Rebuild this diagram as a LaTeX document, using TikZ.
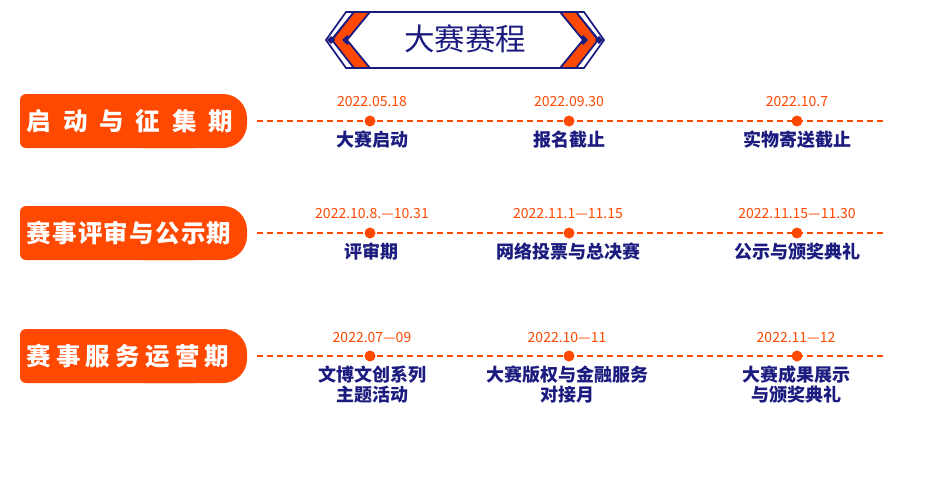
\documentclass[tikz,border=0pt]{standalone}
\usepackage{fontspec}
\setmainfont{Noto Sans CJK SC}
\definecolor{navy}{RGB}{28,28,128}
\definecolor{org}{RGB}{255,72,0}
\begin{document}
\begin{tikzpicture}[x=1pt,y=-1pt,
  datet/.style={text=org,font=\fontsize{14}{16}\selectfont,inner sep=0pt},
  labt/.style={text=navy,font=\bfseries\fontsize{18}{20.5}\selectfont,inner sep=0pt,align=center},
  boxt/.style={text=white,font=\bfseries\fontsize{24.5}{28}\selectfont,inner sep=0pt},
  tdot/.style={circle,fill=org,minimum size=11pt,inner sep=0pt},
  tline/.style={draw=org,dash pattern=on 6pt off 4pt,line width=1.4pt},
  bandline/.style={draw=navy,line width=1.7pt,line join=miter}]
\fill[white] (0,0) rectangle (931,498);
\useasboundingbox (0,0) rectangle (931,498);
% ---- title banner ----
\foreach \s in {1,-1}{
  \begin{scope}[xshift=465pt,xscale=\s]
    \filldraw[fill=white,bandline] (-119,12) -- (-111,12) -- (-133,39) -- (-111,68) -- (-119,68) -- (-139,40) -- cycle;
    \filldraw[fill=org,bandline] (-111,12) -- (-95,12) -- (-118,40) -- (-95,68) -- (-111,68) -- (-133,40) -- cycle;
    \fill[navy] (-118,35) -- (-113,40) -- (-118,45) -- (-123,40) -- cycle;
    \fill[navy] (-134,36) -- (-130,40) -- (-134,44) -- (-138,40) -- cycle;
  \end{scope}}
\filldraw[fill=white,bandline] (370,12) -- (560,12) -- (583,40) -- (560,68) -- (370,68) -- (347,40) -- cycle;
\node[text=navy,font=\fontsize{30.5}{34}\selectfont,inner sep=0pt] (title) at (465,39) {大赛赛程};
% ---- phase boxes ----
\foreach \y in {121,233,356}{
  \fill[org,rounded corners=6pt] (20,\y-27) rectangle (200,\y+27);
  \fill[org,rounded corners=24pt] (120,\y-27) rectangle (247,\y+27);
}
\node[boxt] (p1) at (130,121) {\makebox[206pt][s]{启\hfil 动\hfil 与\hfil 征\hfil 集\hfil 期}};
\node[boxt] (p2) at (129,233) {\makebox[205pt][s]{赛\hfil 事\hfil 评\hfil 审\hfil 与\hfil 公\hfil 示\hfil 期}};
\node[boxt] (p3) at (128,356) {\makebox[203pt][s]{赛\hfil 事\hfil 服\hfil 务\hfil 运\hfil 营\hfil 期}};
% ---- timelines ----
\foreach \r/\y in {1/121,2/233,3/356}{
  \coordinate (s\r) at (257,\y);
  \coordinate (e\r) at (887,\y);
  \draw[tline] (s\r) -- (e\r);
  \node[tdot] (d\r a) at (370,\y) {};
  \node[tdot] (d\r b) at (569,\y) {};
  \node[tdot] (d\r c) at (797,\y) {};
}
% row 1
\node[datet] (t1a) at (372,102) {2022.05.18};
\node[datet] (t1b) at (569,102) {2022.09.30};
\node[datet] (t1c) at (797,102) {2022.10.7};
\node[labt] (l1a) at (372,139.5) {大赛启动};
\node[labt] (l1b) at (569,139.5) {报名截止};
\node[labt] (l1c) at (797,139.5) {实物寄送截止};
% row 2
\node[datet] (t2a) at (372,214) {2022.10.8.—10.31};
\node[datet] (t2b) at (568,214) {2022.11.1—11.15};
\node[datet] (t2c) at (797,214) {2022.11.15—11.30};
\node[labt] (l2a) at (371,251.5) {评审期};
\node[labt] (l2b) at (568,251.5) {网络投票与总决赛};
\node[labt] (l2c) at (797,251.5) {公示与颁奖典礼};
% row 3
\node[datet] (t3a) at (372,337.5) {2022.07—09};
\node[datet] (t3b) at (567,337.5) {2022.10—11};
\node[datet] (t3c) at (796,337.5) {2022.11—12};
\node[labt] (l3a) at (372,384.5) {文博文创系列\\主题活动};
\node[labt] (l3b) at (567,384.5) {大赛版权与金融服务\\对接月};
\node[labt] (l3c) at (796,384.5) {大赛成果展示\\与颁奖典礼};
\end{tikzpicture}
\end{document}
